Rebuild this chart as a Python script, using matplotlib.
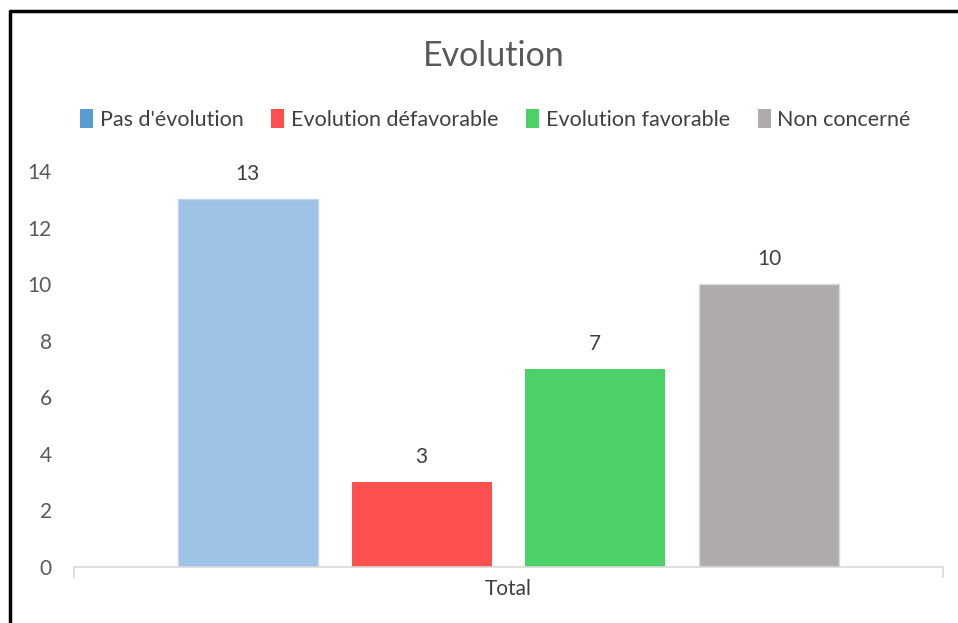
import matplotlib.pyplot as plt
from matplotlib.patches import Patch
from matplotlib.lines import Line2D

plt.rcParams['font.family'] = ['Lato', 'DejaVu Sans']

# Chart data
categories = ["Pas d'évolution", "Evolution défavorable", "Evolution favorable", "Non concerné"]
values = [13, 3, 7, 10]
bar_colors = ["#9DC3E6", "#FF5050", "#4CD068", "#AFABAB"]
legend_colors = ["#5B9BD5", "#FF5050", "#4CD068", "#AFABAB"]
yticks = [0, 2, 4, 6, 8, 10, 12, 14]

fig = plt.figure(figsize=(9.58, 6.23), dpi=100)
ax = fig.add_axes([0.0772, 0.0899, 0.9071, 0.6356])

positions = [0.2 + 0.2 * i for i in range(len(values))]
bars = ax.bar(positions, values, width=0.161, color=bar_colors,
              edgecolor=["#BDD7EE", "none", "none", "#D9D9D9"], linewidth=1)
for x, v in zip(positions, values):
    ax.annotate(str(v), (x, v), xytext=(0, 11), textcoords="offset points",
                ha="center", va="bottom", fontsize=15, color="#404040")

ax.set_xlim(0, 1)
ax.set_ylim(0, 14)
ax.set_yticks(yticks)
ax.set_xticks([0, 1])
ax.set_xticklabels(["", ""])
ax.tick_params(axis="x", length=8, color="#D9D9D9", width=1.2)
ax.tick_params(axis="y", length=0, pad=16, labelsize=15, labelcolor="#595959")
for s in ["top", "right", "left"]:
    ax.spines[s].set_visible(False)
ax.spines["bottom"].set_color("#D9D9D9")
ax.spines["bottom"].set_linewidth(1.2)
ax.text(0.5, -0.055, "Total", transform=ax.transAxes, ha="center", va="center",
        fontsize=15, color="#404040")

fig.text(0.515, 0.91, "Evolution", ha="center", va="center", fontsize=24.5, color="#595959")

handles = [Patch(facecolor=c) for c in legend_colors]
fig.legend(handles, categories, loc="center", bbox_to_anchor=(0.517, 0.808), ncol=4,
           frameon=False, fontsize=15.5, handlelength=0.6, handleheight=1.0,
           handletextpad=0.3, columnspacing=1.3, labelcolor="#404040")

# Outer frame (left and top edges visible)
fig.add_artist(Line2D([0.0105, 0.0105, 1.0], [0.0, 0.983, 0.983], color="black",
                      linewidth=2.5, transform=fig.transFigure))

fig.savefig("out.png", dpi=100, facecolor="white")
